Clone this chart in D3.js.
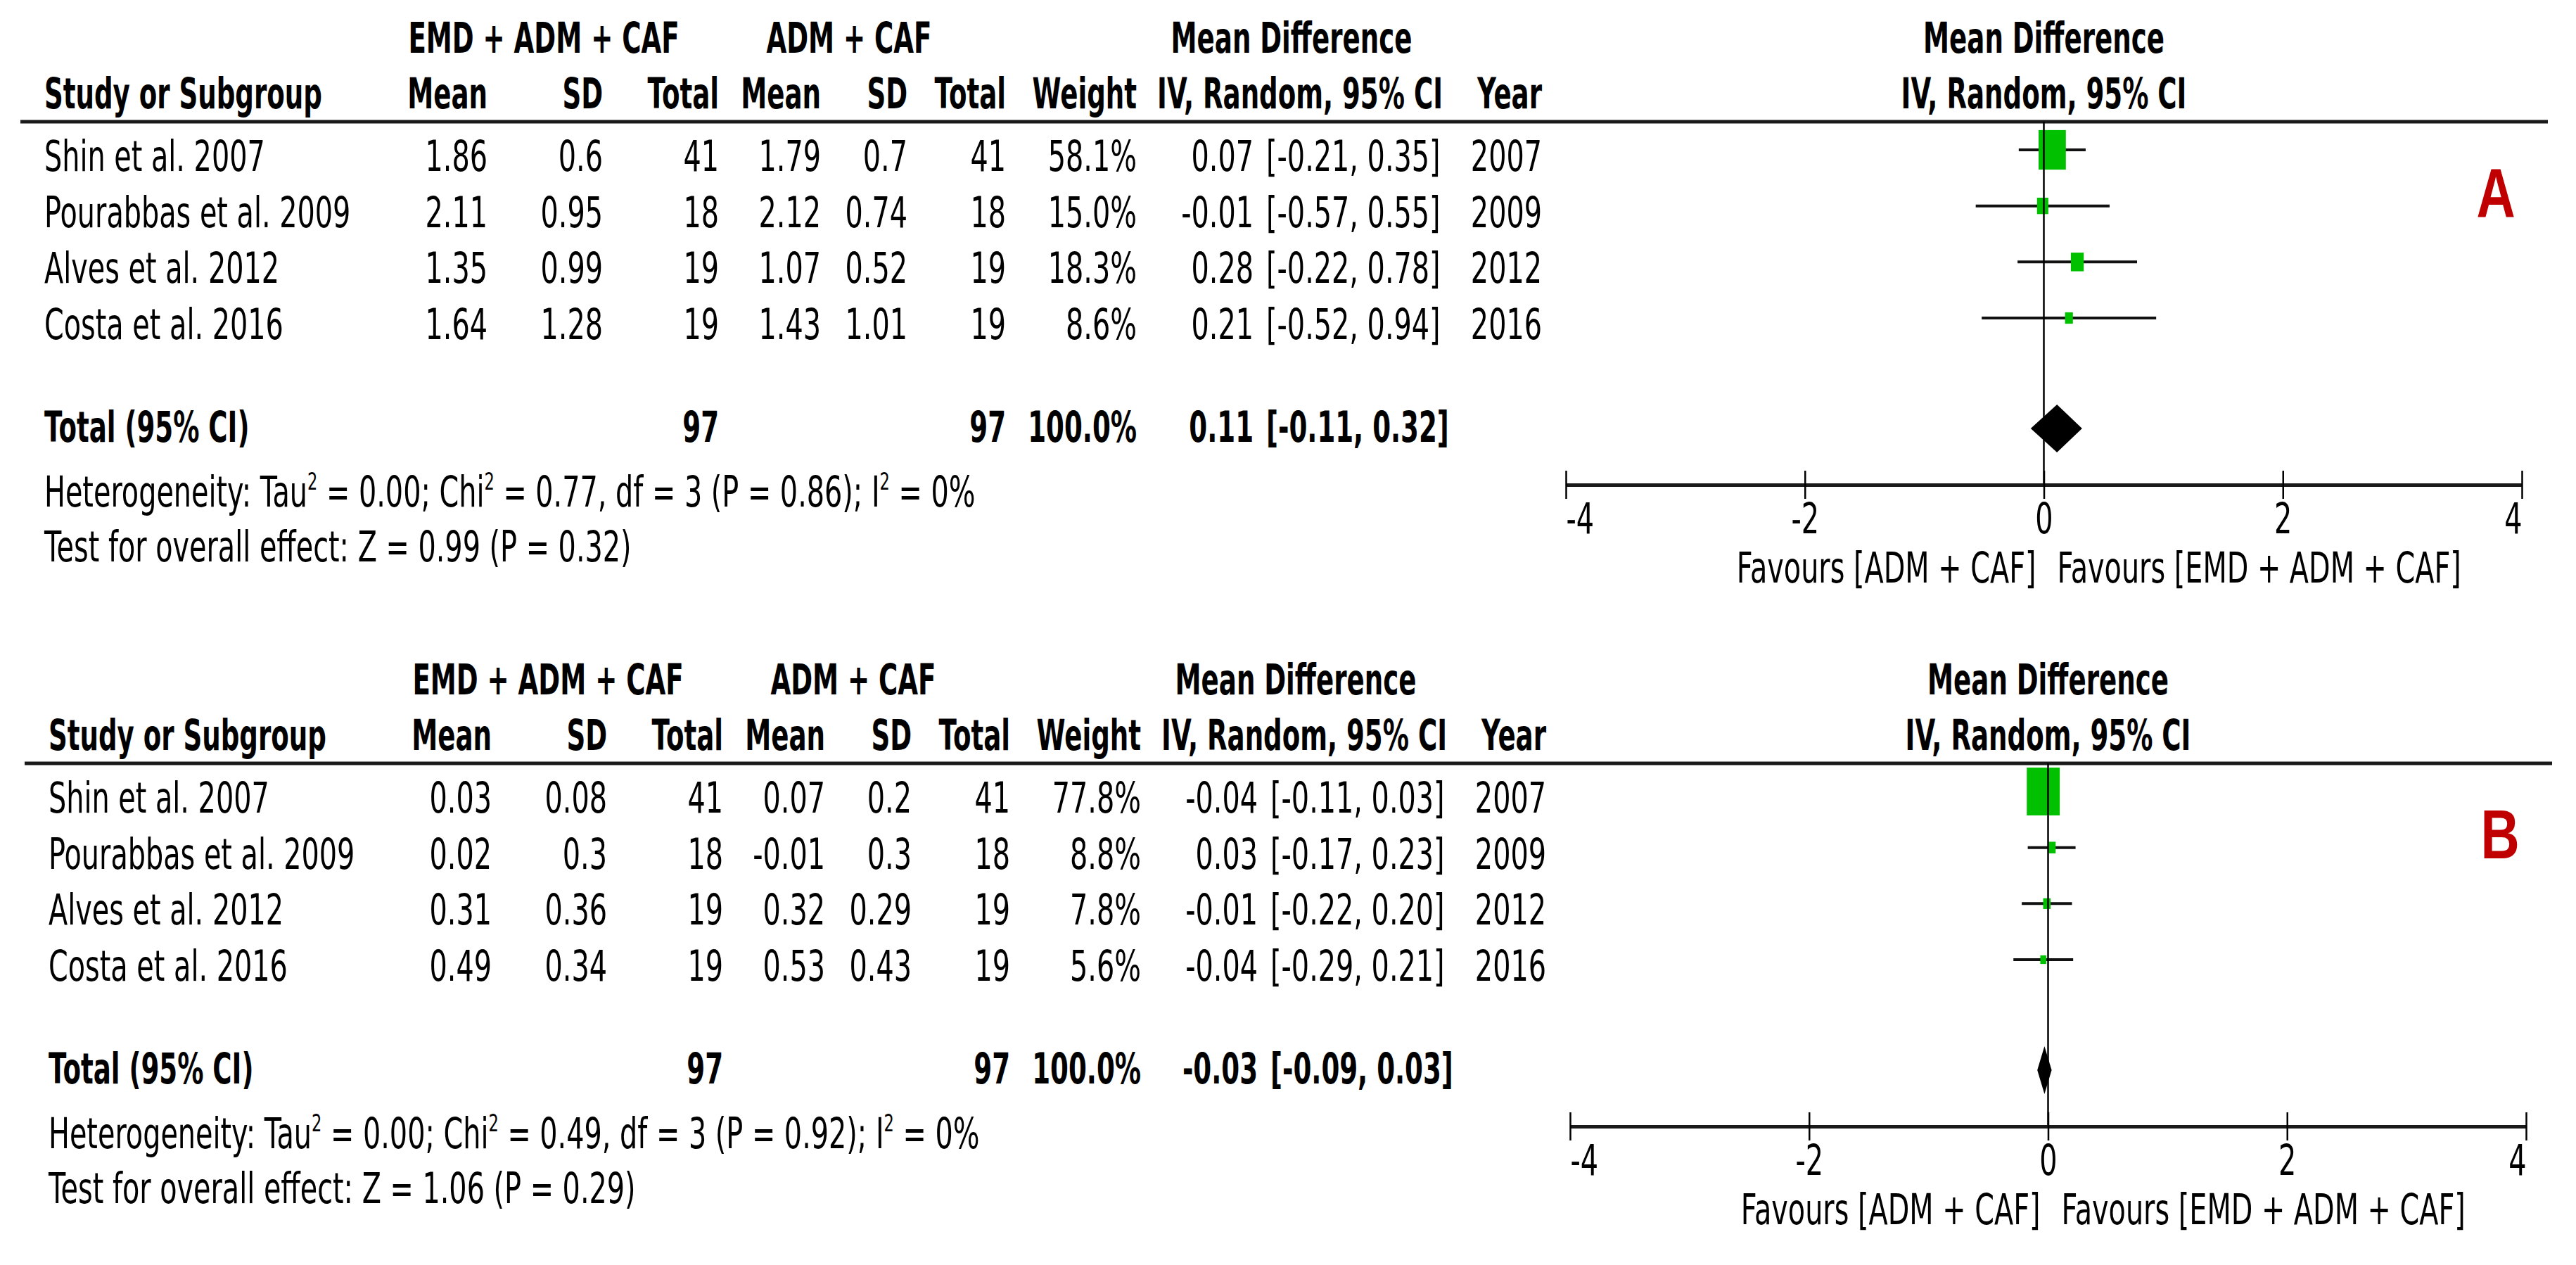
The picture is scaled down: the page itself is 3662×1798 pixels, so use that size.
<!DOCTYPE html>
<html>
<head>
<meta charset="utf-8">
<script src="https://cdn.jsdelivr.net/npm/d3@7"></script>
<style>
  body { margin: 0; background: #fff; }
  text { font-family: "DejaVu Sans", sans-serif; font-size: 60px; fill: #000; }
</style>
</head>
<body>
<div id="chart"></div>
<script>
// ---- data ----
const studies = ["Shin et al. 2007", "Pourabbas et al. 2009", "Alves et al. 2012", "Costa et al. 2016"];
const years = [2007, 2009, 2012, 2016];
const groupE = "EMD + ADM + CAF";
const groupC = "ADM + CAF";
const nE = [41, 18, 19, 19];
const nC = [41, 18, 19, 19];

// panel A
const meanE_A = ["1.86", "2.11", "1.35", "1.64"];
const sdE_A = ["0.6", "0.95", "0.99", "1.28"];
const meanC_A = ["1.79", "2.12", "1.07", "1.43"];
const sdC_A = ["0.7", "0.74", "0.52", "1.01"];
const weight_A = [58.1, 15.0, 18.3, 8.6];
const md_A = [0.07, -0.01, 0.28, 0.21];
const lo_A = [-0.21, -0.57, -0.22, -0.52];
const hi_A = [0.35, 0.55, 0.78, 0.94];
const total_A = [0.11, -0.11, 0.32];
const het_A = ["0.00", "0.77", "3", "0.86", "0%"];
const z_A = ["0.99", "0.32"];

// panel B
const meanE_B = ["0.03", "0.02", "0.31", "0.49"];
const sdE_B = ["0.08", "0.3", "0.36", "0.34"];
const meanC_B = ["0.07", "-0.01", "0.32", "0.53"];
const sdC_B = ["0.2", "0.3", "0.29", "0.43"];
const weight_B = [77.8, 8.8, 7.8, 5.6];
const md_B = [-0.04, 0.03, -0.01, -0.04];
const lo_B = [-0.11, -0.17, -0.22, -0.29];
const hi_B = [0.03, 0.23, 0.20, 0.21];
const total_B = [-0.03, -0.09, 0.03];
const het_B = ["0.00", "0.49", "3", "0.92", "0%"];
const z_B = ["1.06", "0.29"];

const axisTicks = [-4, -2, 0, 2, 4];
const favLeft = "Favours [ADM + CAF]";
const favRight = "Favours [EMD + ADM + CAF]";

const W = 3662, H = 1798;
const svg = d3.select("#chart").append("svg")
  .attr("width", W).attr("height", H)
  .attr("viewBox", "0 0 " + W + " " + H);

// the picture is squeezed sideways; calibrate text widths on two labels
function measure(s, bold) {
  const t = svg.append("text").attr("font-weight", bold ? "bold" : "normal").text(s);
  const w = t.node().getComputedTextLength();
  t.remove();
  return w;
}
const sxB = 395 / measure("Study or Subgroup", true);
const sxR = 835 / measure("Test for overall effect: Z = 0.99 (P = 0.32)", false);

const f2 = v => v.toFixed(2);

function txt(g, x, y, s, anchor, bold) {
  return g.append("text")
    .attr("transform", "translate(" + x + "," + y + ") scale(" + (bold ? sxB : sxR) + ",1)")
    .attr("text-anchor", anchor || "start")
    .attr("font-weight", bold ? "bold" : "normal")
    .text(s);
}

function drawPanel(p, dx, dy, letter) {
  const g = svg.append("g").attr("transform", "translate(" + dx + "," + dy + ")");

  const rows = studies.map((s, i) => ({
    study: s, meanE: p.meanE[i], sdE: p.sdE[i], nE: nE[i],
    meanC: p.meanC[i], sdC: p.sdC[i], nC: nC[i],
    weight: p.weight[i], md: p.md[i], lo: p.lo[i], hi: p.hi[i], year: years[i]
  }));

  const rowY = d3.scalePoint().domain(d3.range(rows.length)).range([243, 482]);
  const x = d3.scaleLinear().domain([-4, 4]).range([2226, 3585]);
  const boxH = d3.scalePow().exponent(0.65).domain([0, 100]).range([0, 80]);
  const axisY = 689;

  // headers
  txt(g, 773, 75, groupE, "middle", true);
  txt(g, 1207, 75, groupC, "middle", true);
  txt(g, 1836, 75, "Mean Difference", "middle", true);
  txt(g, x(0), 75, "Mean Difference", "middle", true);

  const cols = [
    { k: "study", x: 63, a: "start", h: "Study or Subgroup" },
    { k: "meanE", x: 693, a: "end", h: "Mean" },
    { k: "sdE", x: 857, a: "end", h: "SD" },
    { k: "nE", x: 1022, a: "end", h: "Total" },
    { k: "meanC", x: 1167, a: "end", h: "Mean" },
    { k: "sdC", x: 1290, a: "end", h: "SD" },
    { k: "nC", x: 1430, a: "end", h: "Total" },
    { k: "weight", x: 1616, a: "end", h: "Weight", f: v => v.toFixed(1) + "%" },
    { k: "md", x: 1782, a: "end", f: f2 },
    { k: "ci", x: 1800, a: "start" },
    { k: "year", x: 2192, a: "end", h: "Year" }
  ];
  cols.filter(c => c.h).forEach(c => txt(g, c.x, 154, c.h, c.a, true));
  txt(g, 2051, 154, "IV, Random, 95% CI", "end", true);
  txt(g, x(0), 154, "IV, Random, 95% CI", "middle", true);

  g.append("line")
    .attr("x1", 29).attr("x2", 3622).attr("y1", 173).attr("y2", 173)
    .attr("stroke", "#1a1a1a").attr("stroke-width", 5);

  // study rows
  rows.forEach((r, i) => {
    const y = rowY(i);
    cols.forEach(c => {
      let v = c.k === "ci" ? "[" + f2(r.lo) + ", " + f2(r.hi) + "]" : r[c.k];
      if (c.f) v = c.f(v);
      txt(g, c.x, y, v, c.a, false);
    });
  });

  // total row
  const ty = 628;
  txt(g, 63, ty, "Total (95% CI)", "start", true);
  txt(g, 1022, ty, d3.sum(nE), "end", true);
  txt(g, 1430, ty, d3.sum(nC), "end", true);
  txt(g, 1616, ty, "100.0%", "end", true);
  txt(g, 1782, ty, f2(p.total[0]), "end", true);
  txt(g, 1800, ty, "[" + f2(p.total[1]) + ", " + f2(p.total[2]) + "]", "start", true);

  // heterogeneity & overall effect
  const ht = txt(g, 63, 720, "", "start", false);
  const parts = [
    ["Heterogeneity: Tau"], ["2", 1], [" = " + p.het[0] + "; Chi"], ["2", 1],
    [" = " + p.het[1] + ", df = " + p.het[2] + " (P = " + p.het[3] + "); I"], ["2", 1],
    [" = " + p.het[4]]
  ];
  let up = false;
  parts.forEach(pt => {
    const ts = ht.append("tspan").text(pt[0]);
    if (pt[1]) { ts.style("font-size", "34px").attr("dy", -24); up = true; }
    else if (up) { ts.attr("dy", 24); up = false; }
  });
  txt(g, 63, 798, "Test for overall effect: Z = " + p.z[0] + " (P = " + p.z[1] + ")", "start", false);

  // forest marks
  const marks = g.append("g");
  marks.selectAll("line.ci").data(rows).join("line")
    .attr("class", "ci")
    .attr("x1", d => x(d.lo)).attr("x2", d => x(d.hi))
    .attr("y1", (d, i) => rowY(i) - 30).attr("y2", (d, i) => rowY(i) - 30)
    .attr("stroke", "#111").attr("stroke-width", 4);
  marks.selectAll("rect.box").data(rows).join("rect")
    .attr("class", "box")
    .attr("width", d => boxH(d.weight) * 0.69)
    .attr("height", d => boxH(d.weight))
    .attr("x", d => x(d.md) - boxH(d.weight) * 0.69 / 2)
    .attr("y", (d, i) => rowY(i) - 30 - boxH(d.weight) / 2)
    .attr("fill", "#00c000");

  const cy = ty - 19, dh = 34;
  marks.append("path")
    .attr("d", "M" + x(p.total[1]) + "," + cy + "L" + x(p.total[0]) + "," + (cy - dh) +
      "L" + x(p.total[2]) + "," + cy + "L" + x(p.total[0]) + "," + (cy + dh) + "Z")
    .attr("fill", "#000");

  g.append("line")
    .attr("x1", x(0)).attr("x2", x(0)).attr("y1", 173).attr("y2", axisY)
    .attr("stroke", "#000").attr("stroke-width", 2.5);

  // axis
  const ax = g.append("g").attr("transform", "translate(0," + axisY + ")")
    .call(d3.axisBottom(x).tickValues(axisTicks).tickFormat(d => String(d))
      .tickSizeOuter(0).tickSizeInner(20));
  ax.select(".domain").attr("stroke", "#1a1a1a").attr("stroke-width", 5);
  ax.selectAll(".tick line").attr("y1", -20).attr("y2", 20)
    .attr("stroke", "#000").attr("stroke-width", 2.5);
  ax.selectAll(".tick text")
    .attr("y", 0).attr("dy", null)
    .attr("transform", "translate(0,69) scale(" + sxR + ",1)")
    .attr("text-anchor", (d, i, n) => i === 0 ? "start" : i === n.length - 1 ? "end" : "middle");

  txt(g, x(0) - 11, 828, favLeft, "end", false);
  txt(g, x(0) + 19, 828, favRight, "start", false);

  // panel letter
  g.append("text")
    .attr("transform", "translate(3548,308) scale(0.78,1)")
    .attr("text-anchor", "middle")
    .style("font-family", "Liberation Sans, sans-serif")
    .style("font-weight", "bold")
    .style("font-size", "98px")
    .style("fill", "#c00000")
    .text(letter);
}

drawPanel({ meanE: meanE_A, sdE: sdE_A, meanC: meanC_A, sdC: sdC_A, weight: weight_A,
  md: md_A, lo: lo_A, hi: hi_A, total: total_A, het: het_A, z: z_A }, 0, 0, "A");
drawPanel({ meanE: meanE_B, sdE: sdE_B, meanC: meanC_B, sdC: sdC_B, weight: weight_B,
  md: md_B, lo: lo_B, hi: hi_B, total: total_B, het: het_B, z: z_B }, 6, 912, "B");
</script>
</body>
</html>
